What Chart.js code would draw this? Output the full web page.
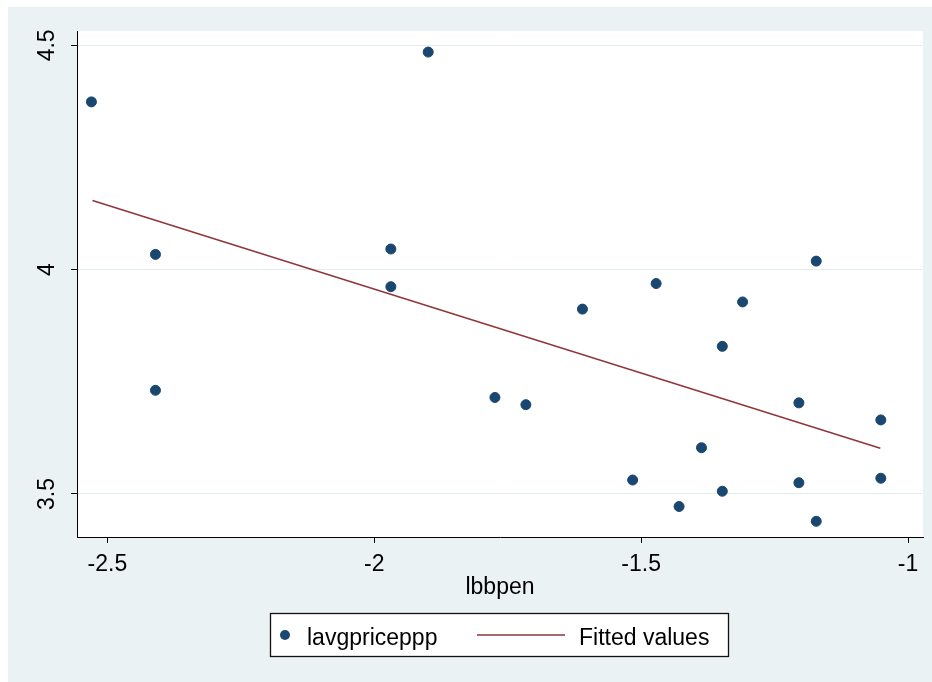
<!DOCTYPE html>
<html>
<head>
<meta charset="utf-8">
<script src="https://cdn.jsdelivr.net/npm/chart.js@4.4.1/dist/chart.umd.min.js"></script>
<style>
html,body{margin:0;padding:0;background:#fff;}
#c{display:block;}
</style>
</head>
<body>
<canvas id="c" width="932" height="682"></canvas>
<script>
// ---- data ----
const xVals = [-2.530, -1.899, -2.410, -2.410, -1.969, -1.969, -1.774, -1.716, -1.610, -1.472, -1.516,
               -1.429, -1.387, -1.348, -1.348, -1.310, -1.2045, -1.2045, -1.172, -1.172, -1.051, -1.051];
const yVals = [4.374, 4.485, 4.034, 3.731, 4.046, 3.962, 3.715, 3.699, 3.912, 3.969, 3.531,
               3.472, 3.603, 3.829, 3.506, 3.928, 3.703, 3.525, 4.019, 3.439, 3.665, 3.535];
const fitX = [-2.528, -1.052];
const fitY = [4.154, 3.602];
const xTicks = [-2.5, -2, -1.5, -1];
const xTickLabels = ['-2.5', '-2', '-1.5', '-1'];
const yTicks = [3.5, 4, 4.5];
const yTickLabels = ['3.5', '4', '4.5'];
const seriesLabels = ['lavgpriceppp', 'Fitted values'];
const xTitle = 'lbbpen';

const FONT = '"Liberation Sans", Arial, sans-serif';
const BG = '#EAF2F3';
const NAVY = '#1A476F';
const MAROON = '#90353B';

const bgPlugin = {
  id: 'bg',
  beforeDraw(chart) {
    const ctx = chart.ctx, a = chart.chartArea;
    ctx.save();
    ctx.fillStyle = '#fff';
    ctx.fillRect(0, 0, chart.width, chart.height);
    ctx.fillStyle = BG;
    ctx.fillRect(8, 7, chart.width - 8, chart.height - 7);
    ctx.fillStyle = '#fff';
    ctx.fillRect(a.left, a.top, a.right - a.left, a.bottom - a.top);
    ctx.restore();
  }
};

const yLabelPlugin = {
  id: 'ylabels',
  afterDraw(chart) {
    const ctx = chart.ctx, ys = chart.scales.y;
    ctx.save();
    ctx.fillStyle = '#000';
    ctx.font = '23px ' + FONT;
    ctx.textAlign = 'center';
    ctx.textBaseline = 'alphabetic';
    yTicks.forEach((v, i) => {
      const py = ys.getPixelForValue(v);
      ctx.save();
      ctx.translate(54, py);
      ctx.rotate(-Math.PI / 2);
      ctx.fillText(yTickLabels[i], 0, 0);
      ctx.restore();
    });
    ctx.restore();
  }
};

const legendPlugin = {
  id: 'boxlegend',
  afterDraw(chart) {
    const ctx = chart.ctx;
    ctx.save();
    ctx.fillStyle = '#fff';
    ctx.fillRect(270.5, 613.5, 458, 43);
    ctx.strokeStyle = '#111';
    ctx.lineWidth = 1.3;
    ctx.strokeRect(270.5, 613.5, 458, 43);
    // marker
    ctx.fillStyle = NAVY;
    ctx.beginPath();
    ctx.arc(285, 635, 5, 0, Math.PI * 2);
    ctx.fill();
    // line sample
    ctx.strokeStyle = MAROON;
    ctx.lineWidth = 1.5;
    ctx.beginPath();
    ctx.moveTo(477, 635);
    ctx.lineTo(565, 635);
    ctx.stroke();
    ctx.fillStyle = '#000';
    ctx.font = '23px ' + FONT;
    ctx.textBaseline = 'alphabetic';
    ctx.textAlign = 'left';
    ctx.fillText(seriesLabels[0], 307, 645);
    ctx.fillText(seriesLabels[1], 579, 645);
    ctx.restore();
  }
};

const scatterData = xVals.map((x, i) => ({x: x, y: yVals[i]}));
const fitData = fitX.map((x, i) => ({x: x, y: fitY[i]}));

new Chart(document.getElementById('c'), {
  type: 'scatter',
  data: {
    datasets: [
      {
        label: seriesLabels[0],
        data: scatterData,
        backgroundColor: NAVY,
        borderColor: NAVY,
        pointRadius: 5,
        pointBorderWidth: 1,
        pointHoverRadius: 5,
        order: 1
      },
      {
        type: 'line',
        label: seriesLabels[1],
        data: fitData,
        borderColor: MAROON,
        borderWidth: 1.5,
        pointRadius: 0,
        fill: false,
        tension: 0,
        order: 2
      }
    ]
  },
  options: {
    responsive: false,
    animation: false,
    devicePixelRatio: 1,
    layout: { padding: { top: 31, right: 9, left: 0, bottom: 0 } },
    plugins: {
      legend: { display: false },
      tooltip: { enabled: false }
    },
    scales: {
      x: {
        type: 'linear',
        min: -2.557,
        max: -0.972,
        afterBuildTicks(scale) { scale.ticks = xTicks.map(v => ({value: v})); },
        afterFit(scale) { scale.height = 145; },
        ticks: {
          autoSkip: false,
          maxRotation: 0,
          padding: 8,
          color: '#000',
          font: { family: FONT, size: 23 },
          callback(v) { const i = xTicks.indexOf(v); return i >= 0 ? xTickLabels[i] : ''; }
        },
        grid: {
          display: true,
          drawOnChartArea: false,
          drawTicks: true,
          tickLength: 6,
          tickColor: '#000',
          tickWidth: 1
        },
        border: { display: true, color: '#000', width: 1 },
        title: {
          display: true,
          text: xTitle,
          color: '#000',
          font: { family: FONT, size: 23 },
          padding: { top: 0, bottom: 81 }
        }
      },
      y: {
        type: 'linear',
        min: 3.404,
        max: 4.532,
        afterBuildTicks(scale) { scale.ticks = yTicks.map(v => ({value: v})); },
        afterFit(scale) { scale.width = 77; },
        ticks: {
          autoSkip: false,
          color: 'rgba(0,0,0,0)',
          font: { family: FONT, size: 23 },
          callback(v) { const i = yTicks.indexOf(v); return i >= 0 ? yTickLabels[i] : ''; }
        },
        grid: {
          display: true,
          drawOnChartArea: true,
          drawTicks: true,
          tickLength: 6,
          color: '#E3EDEF',
          tickColor: '#000',
          lineWidth: 1,
          tickWidth: 1
        },
        border: { display: true, color: '#000', width: 1 }
      }
    }
  },
  plugins: [bgPlugin, yLabelPlugin, legendPlugin]
});
</script>
</body>
</html>
